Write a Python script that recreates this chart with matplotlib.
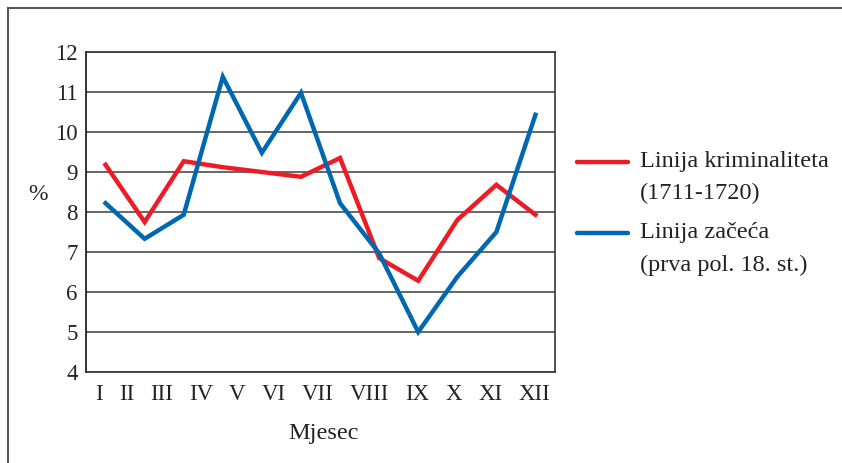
import matplotlib.pyplot as plt
from matplotlib.lines import Line2D

months = ['I', 'II', 'III', 'IV', 'V', 'VI', 'VII', 'VIII', 'IX', 'X', 'XI', 'XII']
crime = [9.18, 7.75, 9.27, 9.12, 9.0, 8.88, 9.35, 6.85, 6.28, 7.8, 8.68, 7.93]
conception = [8.22, 7.33, 7.93, 11.38, 9.48, 10.98, 8.22, 6.97, 5.0, 6.38, 7.5, 10.43]
yticks = [4, 5, 6, 7, 8, 9, 10, 11, 12]

if __name__ == '__main__':
    plt.rcParams['font.family'] = 'Liberation Serif'
    fig = plt.figure(figsize=(8.42, 4.63), dpi=100)
    ax_left, ax_w = 86, 469
    ax = fig.add_axes([ax_left / 842, 1 - 372 / 463, ax_w / 842, 320 / 463])

    x = list(range(len(months)))
    ax.plot(x, crime, color='#ED1C24', linewidth=3.2, solid_joinstyle='miter')
    ax.plot(x, conception, color='#0067B1', linewidth=3.2, solid_joinstyle='miter')

    ax.set_xlim(-0.5, 11.5)
    ax.set_ylim(4, 12)
    ax.set_yticks(yticks)

    # month labels in the original are typeset as a row with even gaps
    # (from about x=95 to x=550 px), not centred on the points
    tick_fs = 16.5
    renderer = fig.canvas.get_renderer()
    widths = []
    for m in months:
        t = fig.text(0, 0, m, fontsize=tick_fs)
        widths.append(t.get_window_extent(renderer).width)
        t.remove()
    row_l, row_r = 95, 550
    gap = (row_r - row_l - sum(widths)) / (len(months) - 1)
    centers, pos = [], row_l
    for w in widths:
        centers.append(pos + w / 2)
        pos += w + gap
    ax.set_xticks([(c - ax_left) / ax_w * 12 - 0.5 for c in centers])
    ax.set_xticklabels(months)

    ax.yaxis.grid(True, color='#4d4d4d', linewidth=1.2)
    ax.set_axisbelow(True)
    ax.tick_params(length=0, labelsize=tick_fs, colors='#222222')
    ax.tick_params(axis='y', pad=6)
    ax.tick_params(axis='x', pad=9)
    for s in ['top', 'right', 'bottom', 'left']:
        ax.spines[s].set_color('#333333')
        ax.spines[s].set_linewidth(1.2)
    ax.spines['left'].set_color('#111111')

    fig.text(324 / 842, 1 - 433 / 463, 'Mjesec', ha='center', va='center', fontsize=17.5, color='#222222')
    fig.text(38 / 842, 1 - 195 / 463, '%', ha='center', va='center', fontsize=17, color='#222222')

    # legend drawn by hand
    fig.add_artist(Line2D([577 / 842, 628 / 842], [1 - 162 / 463] * 2, color='#ED1C24', linewidth=3.2, solid_capstyle='round'))
    fig.add_artist(Line2D([577 / 842, 628 / 842], [1 - 233 / 463] * 2, color='#0067B1', linewidth=3.2, solid_capstyle='round'))
    fig.text(640 / 842, 1 - 162 / 463, 'Linija kriminaliteta', va='center', fontsize=17.5, color='#222222')
    fig.text(640 / 842, 1 - 193 / 463, '(1711-1720)', va='center', fontsize=17.5, color='#222222')
    fig.text(640 / 842, 1 - 233 / 463, 'Linija začeća', va='center', fontsize=17.5, color='#222222')
    fig.text(640 / 842, 1 - 265 / 463, '(prva pol. 18. st.)', va='center', fontsize=17.5, color='#222222')

    # outer frame (left and top only)
    fig.add_artist(Line2D([8 / 842, 8 / 842], [0, 1 - 8 / 463], color='#555555', linewidth=1.5))
    fig.add_artist(Line2D([8 / 842, 1], [1 - 8 / 463] * 2, color='#555555', linewidth=1.5))

    fig.savefig('out.png', dpi=100)
